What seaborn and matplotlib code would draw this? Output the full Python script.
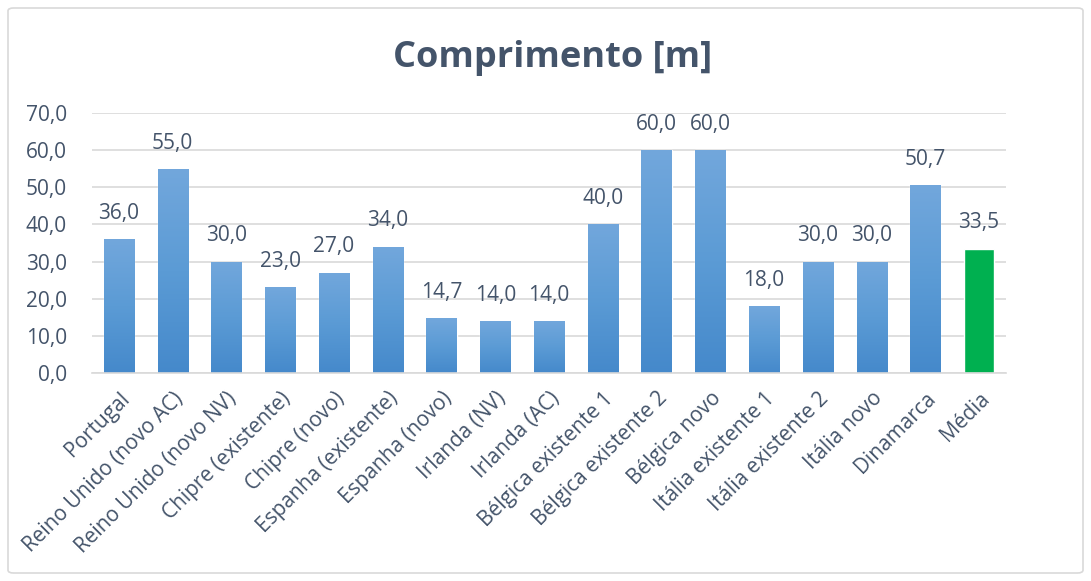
import matplotlib
matplotlib.use("Agg")
import matplotlib.pyplot as plt
import seaborn as sns
import numpy as np
import pandas as pd
from matplotlib.patches import FancyBboxPatch
from matplotlib.colors import LinearSegmentedColormap

categories = ["Portugal", "Reino Unido (novo AC)", "Reino Unido (novo NV)", "Chipre (existente)",
              "Chipre (novo)", "Espanha (existente)", "Espanha (novo)", "Irlanda (NV)", "Irlanda (AC)",
              "Bélgica existente 1", "Bélgica existente 2", "Bélgica novo", "Itália existente 1",
              "Itália existente 2", "Itália novo", "Dinamarca", "Média"]
values = [36.0, 55.0, 30.0, 23.0, 27.0, 34.0, 14.7, 14.0, 14.0, 40.0, 60.0, 60.0, 18.0, 30.0, 30.0, 50.7, 33.5]
yticks = [0, 10, 20, 30, 40, 50, 60, 70]

text_color = "#44546A"
blue = "#5B9BD5"
green = "#00B050"

sns.set_theme(style="white")
plt.rcParams['font.family'] = ['Open Sans', 'DejaVu Sans']

df = pd.DataFrame({"cat": categories, "val": values})
palette = [blue] * (len(categories) - 1) + [green]

fig = plt.figure(figsize=(10.91, 5.81), dpi=100)
ax = fig.add_axes([92 / 1091, 1 - 372.7 / 581, (1006 - 92) / 1091, (372.7 - 113.3) / 581])

sns.barplot(data=df, x="cat", y="val", hue="cat", palette=palette, legend=False,
            width=0.56, ax=ax, saturation=1)

ax.set_ylim(0, 70)
ax.set_xlim(-0.5, len(categories) - 0.5)
ax.set_yticks(yticks)
ax.set_yticklabels([f"{v:.1f}".replace(".", ",") for v in yticks], color=text_color, fontsize=15)
ax.set_xticks(range(len(categories)))
ax.set_xticklabels(categories, rotation=45, ha="right", rotation_mode="anchor",
                   color=text_color, fontsize=15)
ax.tick_params(axis="both", length=0)
ax.tick_params(axis="y", pad=18)
ax.tick_params(axis="x", pad=11)
ax.set_xlabel("")
ax.set_ylabel("")
ax.grid(axis="y", color="#D9D9D9", linewidth=1.2)
ax.set_axisbelow(True)
for s in ["top", "right", "left"]:
    ax.spines[s].set_visible(False)
ax.spines["bottom"].set_color("#D9D9D9")
ax.spines["bottom"].set_linewidth(1.2)

# gradient fill for blue bars
cmap = LinearSegmentedColormap.from_list("g", ["#4589CB", "#5B9BD5", "#72A7DC"])
grad = np.linspace(0, 1, 256).reshape(-1, 1)
patches = sorted(ax.patches, key=lambda p: p.get_x())
for i, p in enumerate(patches):
    if i < len(categories) - 1:
        x0, y0, w, h = p.get_x(), p.get_y(), p.get_width(), p.get_height()
        im = ax.imshow(grad, cmap=cmap, origin="lower", aspect="auto",
                       extent=[x0, x0 + w, y0, y0 + h], zorder=p.get_zorder() + 0.1)
        im.set_clip_path(p)
    ax.annotate(f"{values[i]:.1f}".replace(".", ","), (p.get_x() + p.get_width() / 2, p.get_height()),
                xytext=(0, 11), textcoords="offset points", ha="center", va="bottom",
                color=text_color, fontsize=15)
ax.set_xlim(-0.5, len(categories) - 0.5)
ax.set_ylim(0, 70)

fig.text(553 / 1091, 1 - 58 / 581, "Comprimento [m]", ha="center", va="center",
         fontsize=26, fontweight="bold", color=text_color)

border = FancyBboxPatch((8 / 1091, 8 / 581), 1 - 16 / 1091, 1 - 16 / 581,
                        boxstyle="round,pad=0,rounding_size=0.005", transform=fig.transFigure,
                        facecolor="none", edgecolor="#D9D9D9", linewidth=1.2)
fig.patches.append(border)

fig.savefig("out.png", dpi=100)
